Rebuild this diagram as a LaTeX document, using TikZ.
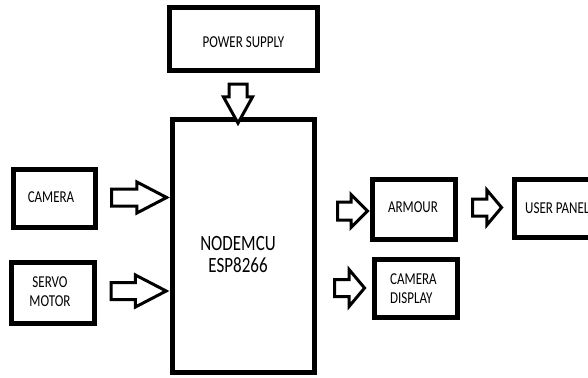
\documentclass[tikz,border=0pt]{standalone}
\usepackage{fontspec}
\setmainfont{Carlito}
\usetikzlibrary{shapes.arrows}
\newcommand{\stxt}[1]{\scalebox{1}[1.28]{#1}}
\tikzset{
  blk/.style={draw=black, line width=5pt, fill=white, inner sep=0pt, outer sep=0pt},
  barrow/.style={single arrow, draw=black, line width=3pt, fill=white, inner sep=7pt, outer sep=0pt},
  lbl/.style={inner sep=0pt, font=\fontsize{13}{15.6}\selectfont},
  biglbl/.style={inner sep=0pt, font=\fontsize{17}{21}\selectfont}
}
\begin{document}
\begin{tikzpicture}[x=1pt, y=-1pt]
\useasboundingbox (0,0) rectangle (588,377);
\clip (0,0) rectangle (588,377);
% boxes
\node[blk, minimum width=148pt, minimum height=63pt] (power) at (243.5,39) {};
\node[blk, minimum width=142pt, minimum height=253pt] (mcu) at (243.5,246) {};
\node[blk, minimum width=82pt, minimum height=58pt] (camera) at (54.5,198.5) {};
\node[blk, minimum width=83pt, minimum height=61pt] (servo) at (53,293) {};
\node[blk, minimum width=83pt, minimum height=60pt] (armour) at (414,209.5) {};
\node[blk, minimum width=120pt, minimum height=58pt] (user) at (574.5,208.5) {};
\node[blk, minimum width=83pt, minimum height=58pt] (camdisp) at (416,288.5) {};
% labels
\node[lbl] (powertxt) at (power.center) [yshift=-3pt] {\stxt{POWER SUPPLY}};
\node[biglbl, align=center] (mcutxt) at (238,254.5) {\stxt{\shortstack{NODEMCU\\[2pt]ESP8266}}};
\node[lbl] (cameratxt) at (51,197) {\stxt{CAMERA}};
\node[lbl, align=center] (servotxt) at (50,293) {\stxt{\begin{tabular}{@{}c@{}}SERVO\\MOTOR\end{tabular}}};
\node[lbl] (armourtxt) at (413,207) {\stxt{ARMOUR}};
\node[lbl, anchor=west] (usertxt) at (525,208.5) {\stxt{USER PANEL}};
\node[lbl, anchor=west] (camdisptxt) at (390,290) {\stxt{\begin{tabular}{@{}l@{}}CAMERA\\DISPLAY\end{tabular}}};
% block arrows
\node[barrow, inner sep=7.5pt, minimum height=39pt, single arrow head extend=5.5pt, single arrow tip angle=58, shape border rotate=270] (a1) at (238,95.5) {};
\node[barrow, minimum height=55pt, single arrow head extend=7pt, single arrow tip angle=55] (a2) at (131,197.5) {};
\node[barrow, minimum height=55pt, single arrow head extend=7.5pt, single arrow tip angle=55] (a3) at (130.5,291) {};
\node[barrow, inner sep=7.5pt, minimum height=30pt, single arrow head extend=7.5pt, single arrow tip angle=90] (a4) at (348,211) {};
\node[barrow, minimum height=29pt, single arrow head extend=9pt, single arrow tip angle=100] (a5) at (483.5,207.5) {};
\node[barrow, minimum height=30pt, single arrow head extend=10pt, single arrow tip angle=100] (a6) at (346,288) {};
\end{tikzpicture}
\end{document}
